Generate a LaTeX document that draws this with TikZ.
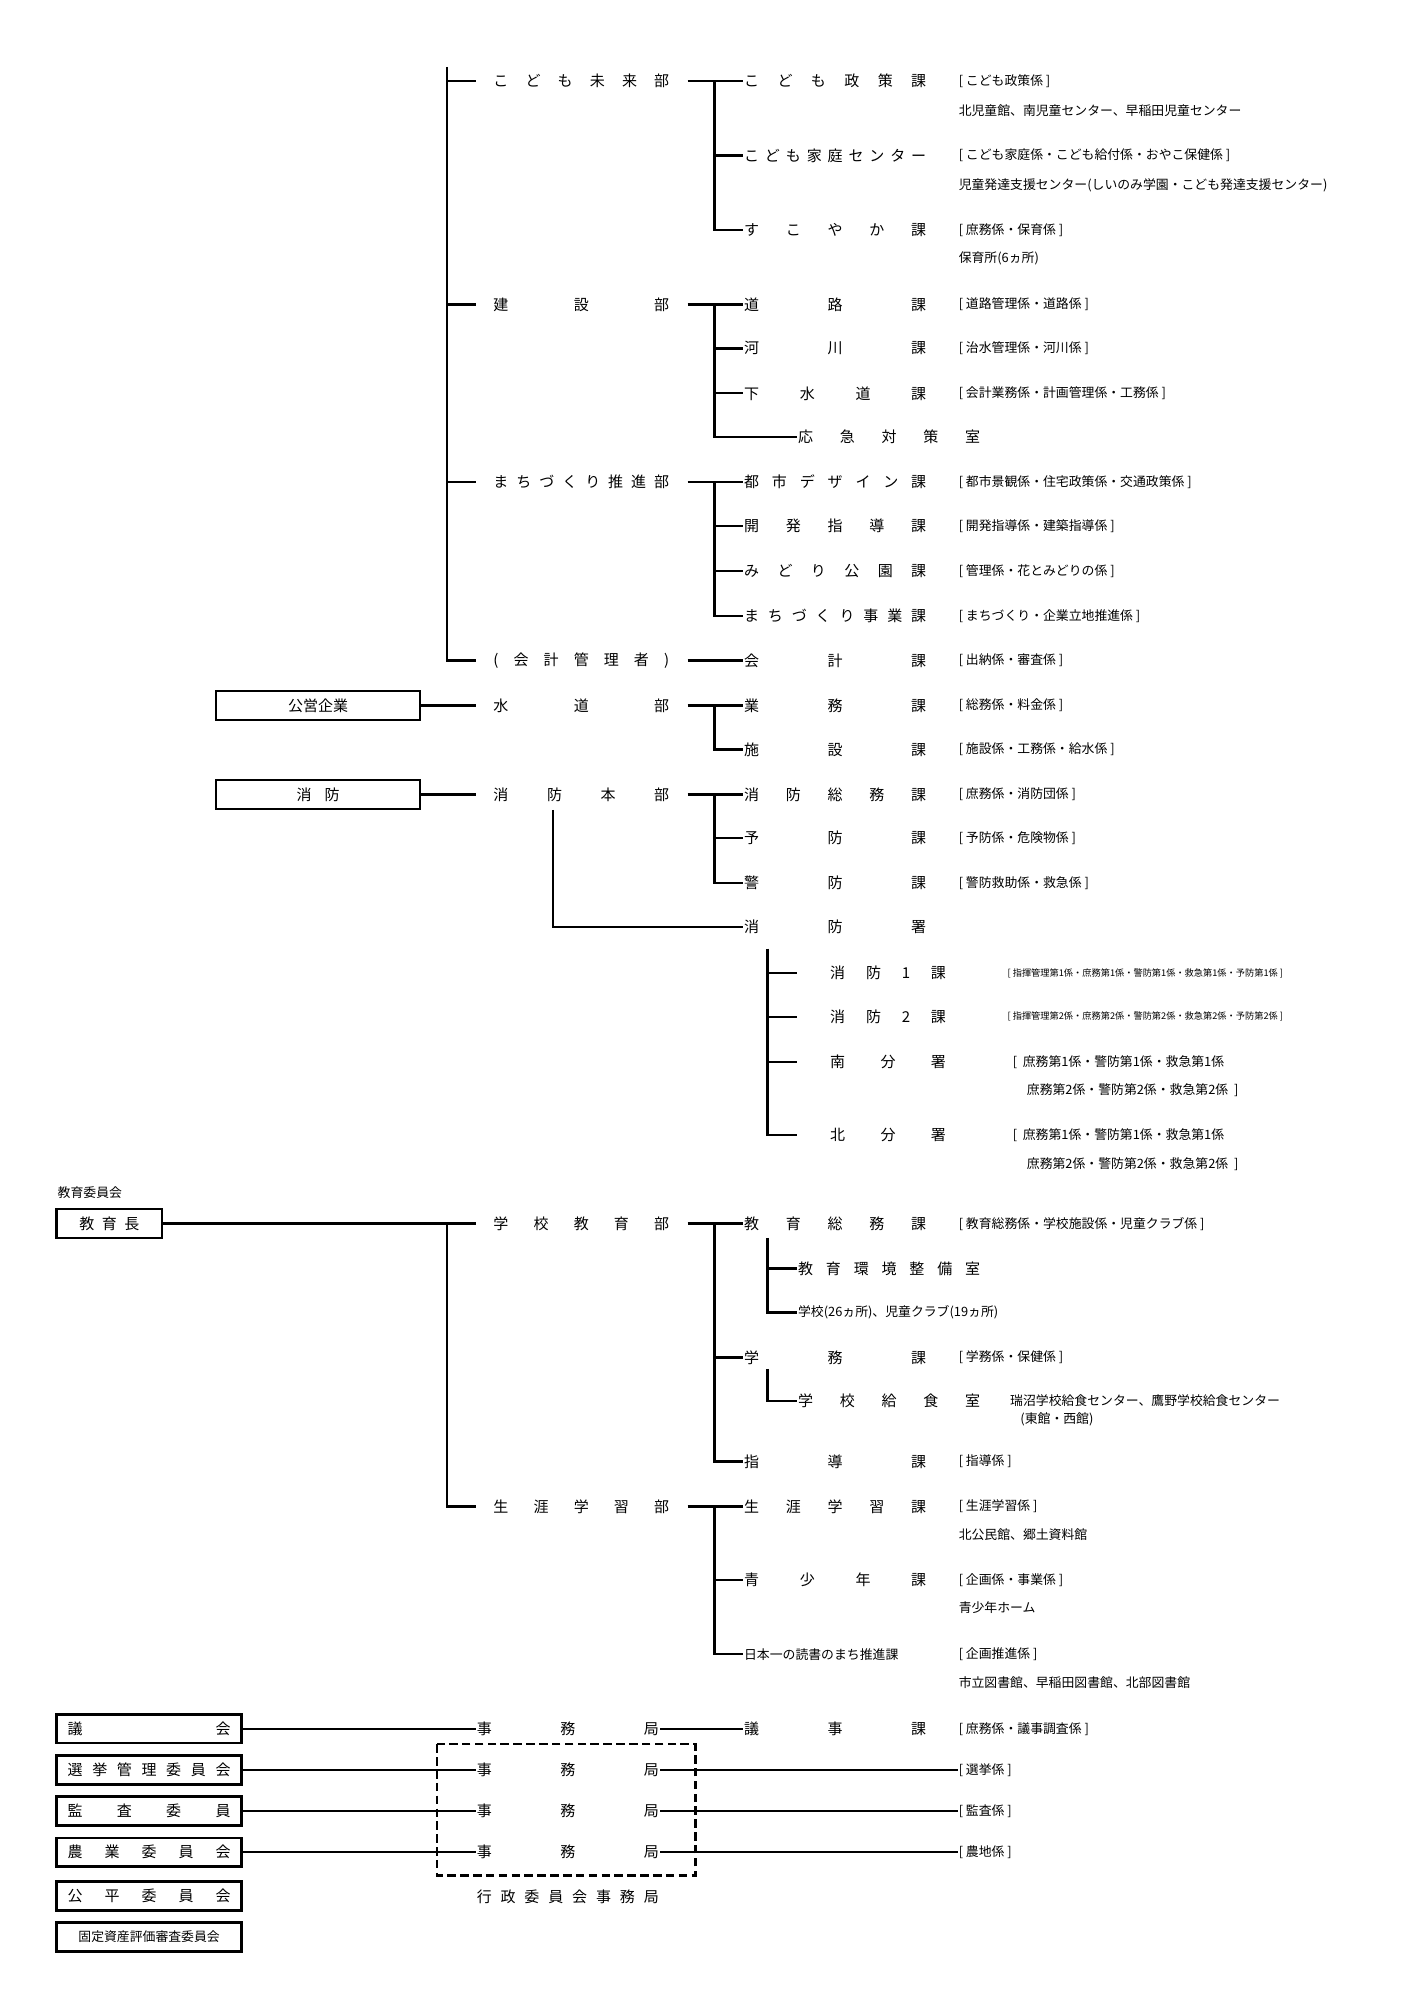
\documentclass[tikz,border=0pt]{standalone}
\usepackage{fontspec}
\setmainfont{Noto Sans CJK JP}
\newcommand\spr[2]{\hbox to #1{#2}}
\newcommand\fm{\fontsize{7}{8.5}\selectfont}
\newcommand\fs{\fontsize{6}{7}\selectfont}
\newcommand\ft{\fontsize{4.3}{5}\selectfont}
\begin{document}
\begin{tikzpicture}[x=0.6pt,y=-0.6pt,line width=1.1pt,
 lab/.style={anchor=west,inner sep=0pt,font=\fm},
 sub/.style={anchor=west,inner sep=0pt,font=\fs},
 tiny/.style={anchor=west,inner sep=0pt,font=\ft},
 box/.style={draw,line width=1.1pt,minimum height=13.5pt,inner sep=0pt,font=\fm},
 thinl/.style={line width=0.7pt}]
\useasboundingbox (0,0) rectangle (1100,1556);
% main vertical
\draw (348,52) |- (370,514);
\foreach \y in {63,237,375}{\draw (348,\y) -- (370,\y);}
% departments
\node[lab] (d1) at (383,63) {\spr{82pt}{こ\hfil ど\hfil も\hfil 未\hfil 来\hfil 部}};
\node[lab] (d2) at (383,237) {\spr{82pt}{建\hfil 設\hfil 部}};
\node[lab] (d3) at (383,375) {\spr{82pt}{ま\hfil ち\hfil づ\hfil く\hfil り\hfil 推\hfil 進\hfil 部}};
\node[lab] (d4) at (383,514) {\spr{82pt}{(\hfil 会\hfil 計\hfil 管\hfil 理\hfil 者\hfil )}};
\node[lab] (d5) at (383,549) {\spr{82pt}{水\hfil 道\hfil 部}};
\node[lab] (d6) at (383,618) {\spr{82pt}{消\hfil 防\hfil 本\hfil 部}};
\node[lab] (d7) at (383,952) {\spr{82pt}{学\hfil 校\hfil 教\hfil 育\hfil 部}};
\node[lab] (d8) at (383,1172) {\spr{82pt}{生\hfil 涯\hfil 学\hfil 習\hfil 部}};
% sections
\node[lab] (s1) at (578,63) {\spr{85pt}{こ\hfil ど\hfil も\hfil 政\hfil 策\hfil 課}};
\node[sub] at (745,63) {[ こども政策係 ]};
\node[sub] at (745,86) {北児童館、南児童センター、早稲田児童センター};
\node[lab] (s2) at (578,121) {\spr{85pt}{こ\hfil ど\hfil も\hfil 家\hfil 庭\hfil セ\hfil ン\hfil タ\hfil ー}};
\node[sub] at (745,121) {[ こども家庭係・こども給付係・おやこ保健係 ]};
\node[sub] at (745,144) {児童発達支援センター(しいのみ学園・こども発達支援センター)};
\node[lab] (s3) at (578,179) {\spr{85pt}{す\hfil こ\hfil や\hfil か\hfil 課}};
\node[sub] at (745,179) {[ 庶務係・保育係 ]};
\node[sub] at (745,201) {保育所(6ヵ所)};
\node[lab] (s4) at (578,237) {\spr{85pt}{道\hfil 路\hfil 課}};
\node[sub] at (745,237) {[ 道路管理係・道路係 ]};
\node[lab] (s5) at (578,271) {\spr{85pt}{河\hfil 川\hfil 課}};
\node[sub] at (745,271) {[ 治水管理係・河川係 ]};
\node[lab] (s6) at (578,306) {\spr{85pt}{下\hfil 水\hfil 道\hfil 課}};
\node[sub] at (745,306) {[ 会計業務係・計画管理係・工務係 ]};
\node[lab] (s7) at (620,340) {\spr{85pt}{応\hfil 急\hfil 対\hfil 策\hfil 室}};
\node[lab] (s8) at (578,375) {\spr{85pt}{都\hfil 市\hfil デ\hfil ザ\hfil イ\hfil ン\hfil 課}};
\node[sub] at (745,375) {[ 都市景観係・住宅政策係・交通政策係 ]};
\node[lab] (s9) at (578,409) {\spr{85pt}{開\hfil 発\hfil 指\hfil 導\hfil 課}};
\node[sub] at (745,409) {[ 開発指導係・建築指導係 ]};
\node[lab] (s10) at (578,444) {\spr{85pt}{み\hfil ど\hfil り\hfil 公\hfil 園\hfil 課}};
\node[sub] at (745,444) {[ 管理係・花とみどりの係 ]};
\node[lab] (s11) at (578,479) {\spr{85pt}{ま\hfil ち\hfil づ\hfil く\hfil り\hfil 事\hfil 業\hfil 課}};
\node[sub] at (745,479) {[ まちづくり・企業立地推進係 ]};
\node[lab] (s12) at (578,514) {\spr{85pt}{会\hfil 計\hfil 課}};
\node[sub] at (745,514) {[ 出納係・審査係 ]};
\node[lab] (s13) at (578,549) {\spr{85pt}{業\hfil 務\hfil 課}};
\node[sub] at (745,549) {[ 総務係・料金係 ]};
\node[lab] (s14) at (578,583) {\spr{85pt}{施\hfil 設\hfil 課}};
\node[sub] at (745,583) {[ 施設係・工務係・給水係 ]};
\node[lab] (s15) at (578,618) {\spr{85pt}{消\hfil 防\hfil 総\hfil 務\hfil 課}};
\node[sub] at (745,618) {[ 庶務係・消防団係 ]};
\node[lab] (s16) at (578,652) {\spr{85pt}{予\hfil 防\hfil 課}};
\node[sub] at (745,652) {[ 予防係・危険物係 ]};
\node[lab] (s17) at (578,687) {\spr{85pt}{警\hfil 防\hfil 課}};
\node[sub] at (745,687) {[ 警防救助係・救急係 ]};
\node[lab] (s18) at (578,721) {\spr{85pt}{消\hfil 防\hfil 署}};
% fire station sub
\node[lab] (f1) at (645,757) {\spr{54pt}{消\hfil 防\hfil 1\hfil 課}};
\node[tiny] at (783,757) {[ 指揮管理第1係・庶務第1係・警防第1係・救急第1係・予防第1係 ]};
\node[lab] (f2) at (645,791) {\spr{54pt}{消\hfil 防\hfil 2\hfil 課}};
\node[tiny] at (783,791) {[ 指揮管理第2係・庶務第2係・警防第2係・救急第2係・予防第2係 ]};
\node[lab] (f3) at (645,826) {\spr{54pt}{南\hfil 分\hfil 署}};
\node[sub] at (787,826) {[ \ 庶務第1係・警防第1係・救急第1係};
\node[sub] at (798,848) {庶務第2係・警防第2係・救急第2係 \ ]};
\node[lab] (f4) at (645,883) {\spr{54pt}{北\hfil 分\hfil 署}};
\node[sub] at (787,883) {[ \ 庶務第1係・警防第1係・救急第1係};
\node[sub] at (798,906) {庶務第2係・警防第2係・救急第2係 \ ]};
% education
\node[lab] (s19) at (578,952) {\spr{85pt}{教\hfil 育\hfil 総\hfil 務\hfil 課}};
\node[sub] at (745,952) {[ 教育総務係・学校施設係・児童クラブ係 ]};
\node[lab] (e1) at (620,987) {\spr{85pt}{教\hfil 育\hfil 環\hfil 境\hfil 整\hfil 備\hfil 室}};
\node[lab] (e2) at (620,1021) {\fs 学校(26ヵ所)、児童クラブ(19ヵ所)};
\node[lab] (s20) at (578,1056) {\spr{85pt}{学\hfil 務\hfil 課}};
\node[sub] at (745,1056) {[ 学務係・保健係 ]};
\node[lab] (e3) at (620,1090) {\spr{85pt}{学\hfil 校\hfil 給\hfil 食\hfil 室}};
\node[sub] at (785,1090) {瑞沼学校給食センター、鷹野学校給食センター};
\node[sub] at (793,1104) {(東館・西館)};
\node[lab] (s21) at (578,1137) {\spr{85pt}{指\hfil 導\hfil 課}};
\node[sub] at (745,1137) {[ 指導係 ]};
\node[lab] (s22) at (578,1172) {\spr{85pt}{生\hfil 涯\hfil 学\hfil 習\hfil 課}};
\node[sub] at (745,1172) {[ 生涯学習係 ]};
\node[sub] at (745,1194) {北公民館、郷土資料館};
\node[lab] (s23) at (578,1229) {\spr{85pt}{青\hfil 少\hfil 年\hfil 課}};
\node[sub] at (745,1229) {[ 企画係・事業係 ]};
\node[sub] at (745,1251) {青少年ホーム};
\node[lab] (s24) at (578,1287) {\spr{85pt}{\fs 日本一の読書のまち推進課}};
\node[sub] at (745,1287) {[ 企画推進係 ]};
\node[sub] at (745,1309) {市立図書館、早稲田図書館、北部図書館};
% trees
\draw (535,63) -- (s1.west); \draw (556,63) |- (s3.west); \draw (556,121) -- (s2.west);
\draw (535,237) -- (s4.west); \draw (556,237) |- (s7.west); \draw (556,271) -- (s5.west); \draw (556,306) -- (s6.west);
\draw (535,375) -- (s8.west); \draw (556,375) |- (s11.west); \draw (556,409) -- (s9.west); \draw (556,444) -- (s10.west);
\draw (535,514) -- (s12.west);
\draw (535,549) -- (s13.west); \draw (556,549) |- (s14.west);
\draw (535,618) -- (s15.west); \draw (556,618) |- (s17.west); \draw (556,652) -- (s16.west);
\draw (430,630) |- (s18.west);
\draw (597,738) |- (620,883); \foreach \y in {757,791,826}{\draw (597,\y) -- (620,\y);}
\draw (535,952) -- (s19.west); \draw (556,952) |- (s21.west); \draw (556,1056) -- (s20.west);
\draw (597,963) |- (e2.west); \draw (597,987) -- (e1.west);
\draw (597,1065) |- (e3.west);
\draw (535,1172) -- (s22.west); \draw (556,1172) |- (s24.west); \draw (556,1229) -- (s23.west);
% boxes left
\node[box,minimum width=95.4pt] (kk) at (247.5,549) {公営企業};
\node[box,minimum width=95.4pt] (sb) at (247.5,618) {\spr{20pt}{消\hfil 防}};
\draw (kk.east) -- (370,549);
\draw (sb.east) -- (370,618);
\node[anchor=west,inner sep=0pt,font=\fs] at (44,928) {教育委員会};
\node[box,minimum width=49.2pt] (ky) at (85,952) {\spr{28pt}{教\hfil 育\hfil 長}};
\draw (ky.east) -- (370,952);
\draw (348,952) |- (370,1172);
% bottom
\foreach \n/\y/\t in {b1/1345/{議\hfil 会},b2/1377/{選\hfil 挙\hfil 管\hfil 理\hfil 委\hfil 員\hfil 会},b3/1409/{監\hfil 査\hfil 委\hfil 員},b4/1441/{農\hfil 業\hfil 委\hfil 員\hfil 会},b5/1475/{公\hfil 平\hfil 委\hfil 員\hfil 会}}{
 \node[box,minimum width=86.4pt] (\n) at (116,\y) {\spr{76pt}{\t}};}
\node[box,minimum width=86.4pt] (b6) at (116,1507) {\fs 固定資産評価審査委員会};
\foreach \n/\y in {j1/1345,j2/1377,j3/1409,j4/1441}{
 \node[lab] (\n) at (370,\y) {\spr{85pt}{事\hfil 務\hfil 局}};}
\draw (b1.east) -- (j1.west); \draw[thinl] (b2.east) -- (j2.west);
\draw (b3.east) -- (j3.west); \draw (b4.east) -- (j4.west);
\node[lab] (s25) at (578,1345) {\spr{85pt}{議\hfil 事\hfil 課}};
\node[sub] at (745,1345) {[ 庶務係・議事調査係 ]};
\node[sub] (g2) at (745,1377) {[ 選挙係 ]};
\node[sub] (g3) at (745,1409) {[ 監査係 ]};
\node[sub] (g4) at (745,1441) {[ 農地係 ]};
\draw (j1.east) -- (s25.west);
\draw[thinl] (j2.east) -- (g2.west); \draw (j3.east) -- (g3.west); \draw (j4.east) -- (g4.west);
\draw[dashed,line width=1.1pt,dash pattern=on 4pt off 2pt] (340,1357) rectangle (541,1459);
\node[lab] at (370,1476) {\spr{85pt}{行\hfil 政\hfil 委\hfil 員\hfil 会\hfil 事\hfil 務\hfil 局}};
\end{tikzpicture}
\end{document}
